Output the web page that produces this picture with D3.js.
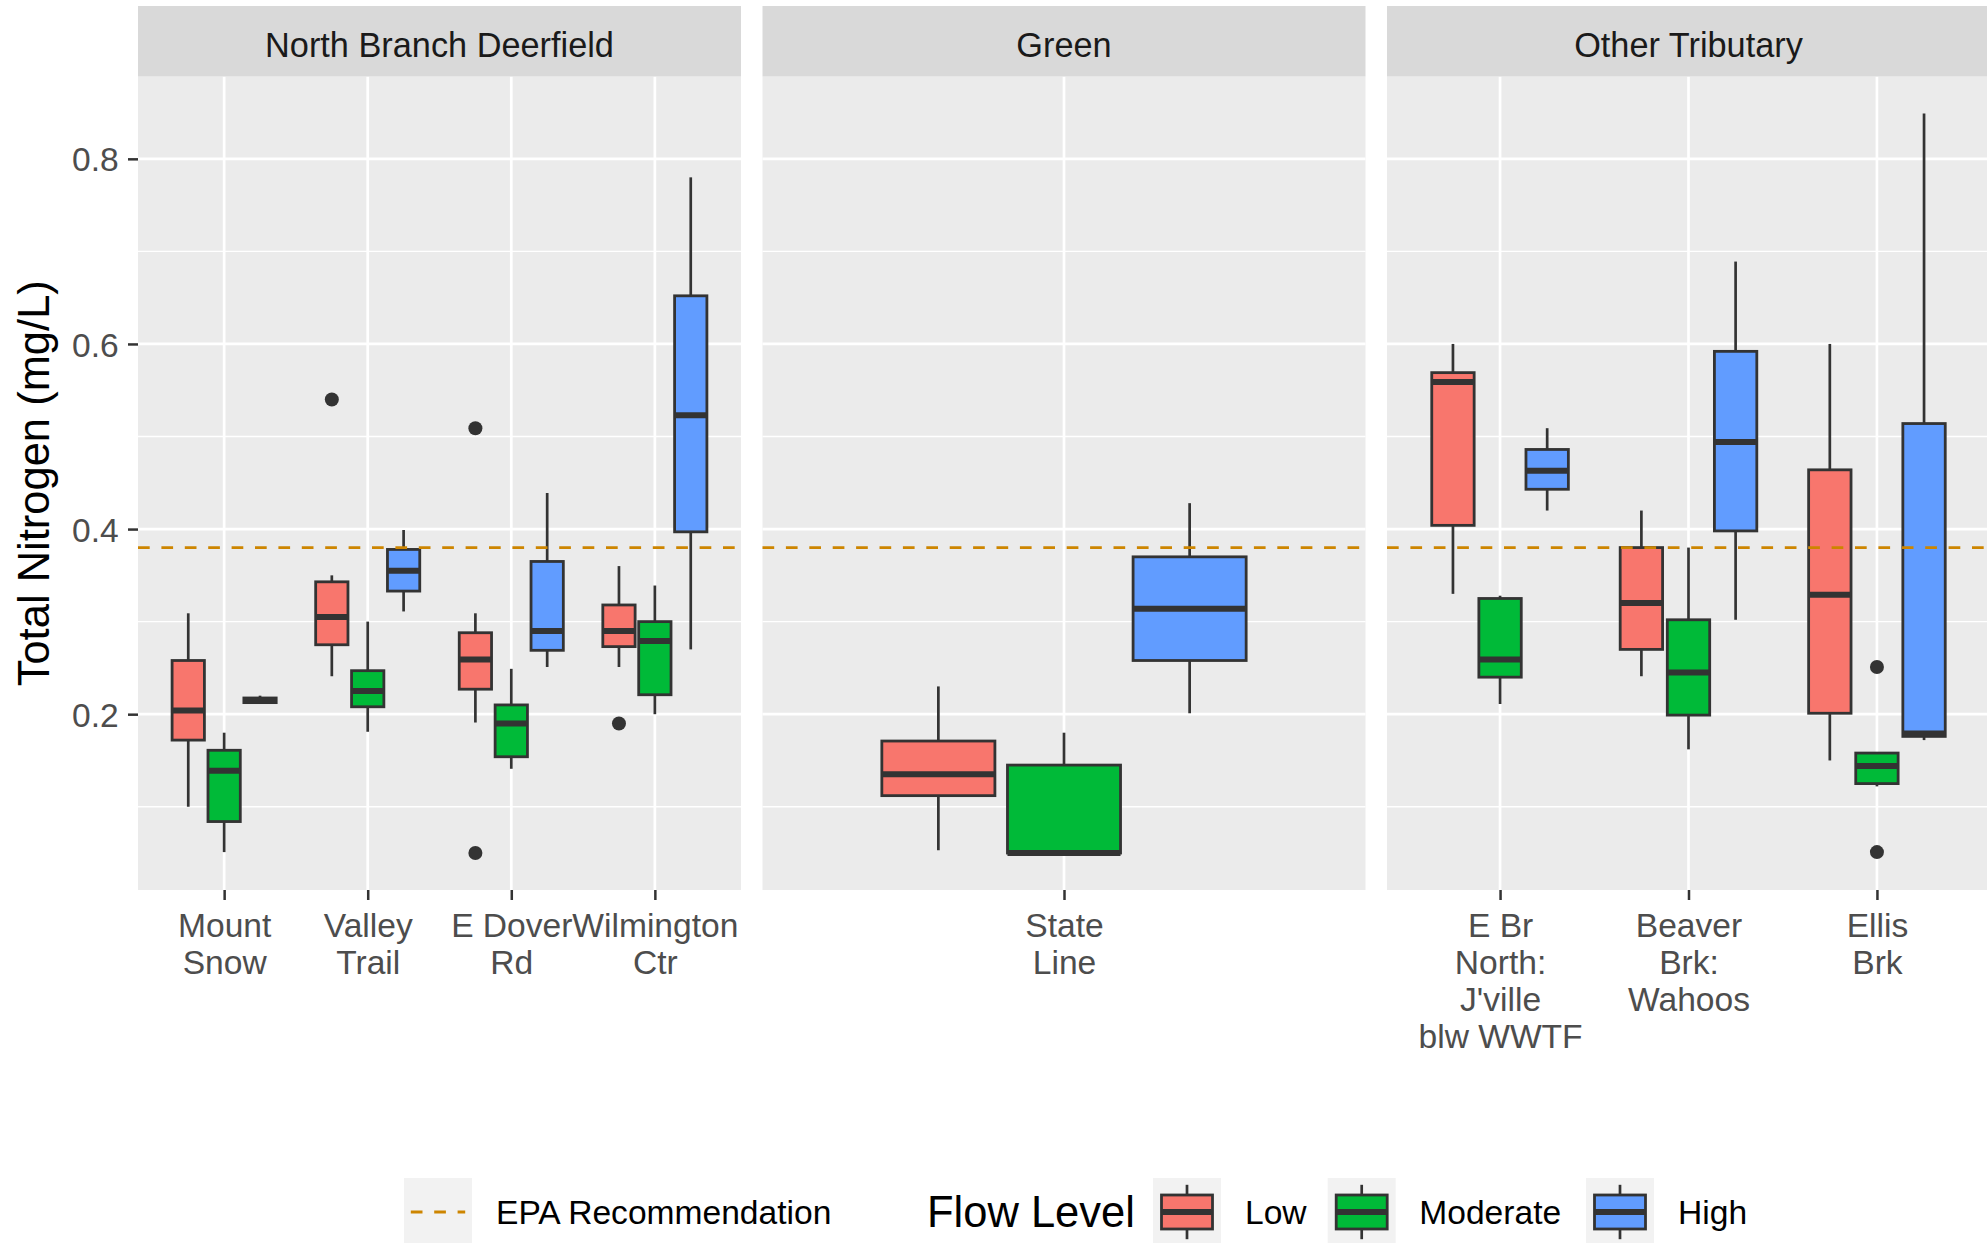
<!DOCTYPE html>
<html>
<head>
<meta charset="utf-8">
<script src="https://cdn.jsdelivr.net/npm/d3@7"></script>
<style>
  html, body { margin: 0; padding: 0; background: #ffffff; }
  svg { display: block; font-family: "Liberation Sans", Arial, Helvetica, sans-serif; }
</style>
</head>
<body>
<svg id="chart" width="1987" height="1243"></svg>
<script>
// Rivers (facets) and the sampling sites that belong to each one
const facets = ["North Branch Deerfield", "Green", "Other Tributary"];
const sites = ["Mount Snow", "Valley Trail", "E Dover Rd", "Wilmington Ctr", "State Line",
               "E Br North: J'ville blw WWTF", "Beaver Brk: Wahoos", "Ellis Brk"];
const siteFacet = [0, 0, 0, 0, 1, 2, 2, 2];
const siteLabels = [["Mount", "Snow"], ["Valley", "Trail"], ["E Dover", "Rd"], ["Wilmington", "Ctr"],
                    ["State", "Line"], ["E Br", "North:", "J'ville", "blw WWTF"],
                    ["Beaver", "Brk:", "Wahoos"], ["Ellis", "Brk"]];
const flowLevels = ["Low", "Moderate", "High"];
const flowColors = ["#F8766D", "#00BA38", "#619CFF"];

// Total nitrogen summaries per site, mg/L: [lower whisker, Q1, median, Q3, upper whisker]
const lowStats = [
  [0.100, 0.172, 0.204, 0.258, 0.309],
  [0.241, 0.275, 0.305, 0.343, 0.350],
  [0.191, 0.227, 0.259, 0.288, 0.309],
  [0.251, 0.273, 0.290, 0.318, 0.360],
  [0.053, 0.112, 0.135, 0.171, 0.230],
  [0.330, 0.404, 0.559, 0.569, 0.600],
  [0.241, 0.270, 0.320, 0.380, 0.420],
  [0.150, 0.201, 0.329, 0.464, 0.600]
];
const moderateStats = [
  [0.051, 0.084, 0.139, 0.161, 0.180],
  [0.181, 0.208, 0.225, 0.247, 0.300],
  [0.141, 0.154, 0.190, 0.210, 0.249],
  [0.200, 0.221, 0.279, 0.300, 0.339],
  [0.050, 0.050, 0.050, 0.145, 0.180],
  [0.211, 0.240, 0.259, 0.325, 0.328],
  [0.162, 0.199, 0.245, 0.302, 0.380],
  [0.122, 0.125, 0.144, 0.158, 0.159]
];
const highStats = [
  [0.2125, 0.2125, 0.215, 0.2175, 0.220],
  [0.311, 0.333, 0.355, 0.378, 0.399],
  [0.251, 0.269, 0.290, 0.365, 0.439],
  [0.270, 0.397, 0.523, 0.652, 0.780],
  [0.201, 0.258, 0.314, 0.370, 0.428],
  [0.420, 0.443, 0.463, 0.486, 0.509],
  [0.302, 0.398, 0.494, 0.592, 0.689],
  [0.172, 0.176, 0.179, 0.514, 0.849]
];
// Outlying samples: [site index, flow level index, value]
const outliers = [
  [1, 0, 0.540],
  [2, 0, 0.509],
  [2, 0, 0.050],
  [3, 0, 0.190],
  [7, 1, 0.251],
  [7, 1, 0.051]
];
const epaRecommendation = 0.38;
const yTicks = [0.2, 0.4, 0.6, 0.8];
const yTickLabels = ["0.2", "0.4", "0.6", "0.8"];

// ---- layout ----
const svg = d3.select("#chart");
const statsByLevel = [lowStats, moderateStats, highStats];
const dark = "#333333";
const panelTop = 76.5, panelBottom = 890, stripTop = 6;
const panelLeft0 = 138, panelW = 603, panelGap = 21.5;
const textSize = 33.6, stripSize = 34.3, titleSize = 43.5;
const boxStroke = 2.8, whiskerStroke = 2.7, medianStroke = 6;

// shared y scale with 5% expansion around the data
const allValues = statsByLevel.flat(2).concat(outliers.map(d => d[2]));
const [vMin, vMax] = d3.extent(allValues);
const pad = (vMax - vMin) * 0.05;
const y = d3.scaleLinear().domain([vMin - pad, vMax + pad]).range([panelBottom, panelTop]);

// minor gridlines half way between the major ticks
const step = yTicks[1] - yTicks[0];
const minorTicks = [yTicks[0] - step / 2].concat(yTicks.map(t => t + step / 2))
  .filter(v => v > y.domain()[0] && v < y.domain()[1]);

facets.forEach((facet, f) => {
  const px = panelLeft0 + f * (panelW + panelGap);
  const fSites = sites.map((s, i) => i).filter(i => siteFacet[i] === f);
  const x = d3.scalePoint().domain(fSites).range([px, px + panelW]).padding(0.6);
  const unit = x.step();

  const g = svg.append("g");
  g.append("rect").attr("x", px).attr("y", panelTop)
    .attr("width", panelW).attr("height", panelBottom - panelTop).attr("fill", "#EBEBEB");

  g.selectAll("line.minor").data(minorTicks).join("line")
    .attr("x1", px).attr("x2", px + panelW)
    .attr("y1", d => y(d)).attr("y2", d => y(d))
    .attr("stroke", "#ffffff").attr("stroke-width", 1.35);
  g.selectAll("line.major").data(yTicks).join("line")
    .attr("x1", px).attr("x2", px + panelW)
    .attr("y1", d => y(d)).attr("y2", d => y(d))
    .attr("stroke", "#ffffff").attr("stroke-width", 2.7);
  g.selectAll("line.vmajor").data(fSites).join("line")
    .attr("x1", d => x(d)).attr("x2", d => x(d))
    .attr("y1", panelTop).attr("y2", panelBottom)
    .attr("stroke", "#ffffff").attr("stroke-width", 2.7);

  // boxes, dodged by flow level
  const boxes = [];
  fSites.forEach(s => {
    flowLevels.forEach((lvl, l) => {
      boxes.push({ s, l, st: statsByLevel[l][s], cx: x(s) + (l - 1) * 0.25 * unit, bw: 0.225 * unit });
    });
  });
  const bg = g.selectAll("g.box").data(boxes).join("g");
  bg.append("line")
    .attr("x1", d => d.cx).attr("x2", d => d.cx)
    .attr("y1", d => y(d.st[4])).attr("y2", d => y(d.st[3]))
    .attr("stroke", dark).attr("stroke-width", whiskerStroke);
  bg.append("line")
    .attr("x1", d => d.cx).attr("x2", d => d.cx)
    .attr("y1", d => y(d.st[1])).attr("y2", d => y(d.st[0]))
    .attr("stroke", dark).attr("stroke-width", whiskerStroke);
  bg.append("rect")
    .attr("x", d => d.cx - d.bw / 2).attr("width", d => d.bw)
    .attr("y", d => y(d.st[3])).attr("height", d => Math.max(0.5, y(d.st[1]) - y(d.st[3])))
    .attr("fill", d => flowColors[d.l]).attr("stroke", dark).attr("stroke-width", boxStroke)
    .attr("stroke-linejoin", "miter");
  bg.append("line")
    .attr("x1", d => d.cx - d.bw / 2).attr("x2", d => d.cx + d.bw / 2)
    .attr("y1", d => y(d.st[2])).attr("y2", d => y(d.st[2]))
    .attr("stroke", dark).attr("stroke-width", medianStroke);

  g.selectAll("circle.out").data(outliers.filter(o => siteFacet[o[0]] === f)).join("circle")
    .attr("cx", d => x(d[0]) + (d[1] - 1) * 0.25 * unit)
    .attr("cy", d => y(d[2])).attr("r", 7).attr("fill", dark);

  // EPA recommended level
  g.append("line")
    .attr("x1", px).attr("x2", px + panelW)
    .attr("y1", y(epaRecommendation)).attr("y2", y(epaRecommendation))
    .attr("stroke", "#CD8500").attr("stroke-width", 2.8).attr("stroke-dasharray", "11.7,11.7");

  // facet strip
  g.append("rect").attr("x", px).attr("y", stripTop)
    .attr("width", panelW).attr("height", panelTop - stripTop).attr("fill", "#D9D9D9");
  g.append("text").attr("x", px + panelW / 2).attr("y", 56.5)
    .attr("text-anchor", "middle").attr("font-size", stripSize).attr("fill", "#1A1A1A")
    .text(facet);

  // bottom axis with wrapped site names
  const ax = svg.append("g").attr("transform", `translate(0,${panelBottom})`)
    .call(d3.axisBottom(x).tickSize(10).tickFormat(""));
  ax.select(".domain").remove();
  ax.selectAll(".tick line").attr("stroke", dark).attr("stroke-width", 2.5);
  ax.selectAll(".tick text").remove();
  ax.selectAll(".tick").append("text")
    .attr("text-anchor", "middle").attr("font-size", textSize).attr("fill", "#4D4D4D")
    .attr("y", 47.3)
    .each(function (d) {
      const t = d3.select(this);
      siteLabels[d].forEach((line, i) => {
        t.append("tspan").attr("x", 0).attr("dy", i === 0 ? 0 : 37).text(line);
      });
    });
});

// left axis
const ay = svg.append("g").attr("transform", `translate(${panelLeft0},0)`)
  .call(d3.axisLeft(y).tickValues(yTicks).tickSize(10).tickPadding(9.3)
    .tickFormat((d, i) => yTickLabels[i]));
ay.select(".domain").remove();
ay.selectAll(".tick line").attr("stroke", dark).attr("stroke-width", 2.5);
ay.selectAll(".tick text").attr("font-size", textSize).attr("fill", "#4D4D4D")
  .attr("font-family", null).attr("dy", "0.36em");

svg.append("text")
  .attr("transform", `translate(49,${(panelTop + panelBottom) / 2}) rotate(-90)`)
  .attr("text-anchor", "middle").attr("font-size", titleSize).attr("fill", "#000000")
  .text("Total Nitrogen (mg/L)");

// legend
const legendMid = 1212, keySize = 68;
const lg = svg.append("g");
lg.append("rect").attr("x", 404).attr("y", legendMid - keySize / 2)
  .attr("width", keySize).attr("height", keySize).attr("fill", "#F2F2F2");
lg.append("line").attr("x1", 404 + 0.1 * keySize).attr("x2", 404 + 0.9 * keySize)
  .attr("y1", legendMid).attr("y2", legendMid)
  .attr("stroke", "#CD8500").attr("stroke-width", 2.8).attr("stroke-dasharray", "11.7,11.7");
lg.append("text").attr("x", 496).attr("y", legendMid + 12)
  .attr("font-size", textSize).attr("fill", "#000000").text("EPA Recommendation");
lg.append("text").attr("x", 927).attr("y", legendMid + 15)
  .attr("font-size", titleSize).attr("fill", "#000000").text("Flow Level");

const keyX = [1153, 1327.7, 1586];
const labelX = [1245, 1419.3, 1678];
flowLevels.forEach((lvl, l) => {
  const kx = keyX[l], ky = legendMid - keySize / 2;
  lg.append("rect").attr("x", kx).attr("y", ky).attr("width", keySize).attr("height", keySize)
    .attr("fill", "#F2F2F2");
  lg.append("line").attr("x1", kx + keySize / 2).attr("x2", kx + keySize / 2)
    .attr("y1", ky + 0.1 * keySize).attr("y2", ky + 0.9 * keySize)
    .attr("stroke", dark).attr("stroke-width", whiskerStroke);
  lg.append("rect").attr("x", kx + 0.125 * keySize).attr("y", ky + 0.25 * keySize)
    .attr("width", 0.75 * keySize).attr("height", 0.5 * keySize)
    .attr("fill", flowColors[l]).attr("stroke", dark).attr("stroke-width", boxStroke);
  lg.append("line").attr("x1", kx + 0.125 * keySize).attr("x2", kx + 0.875 * keySize)
    .attr("y1", legendMid).attr("y2", legendMid)
    .attr("stroke", dark).attr("stroke-width", medianStroke);
  lg.append("text").attr("x", labelX[l]).attr("y", legendMid + 12)
    .attr("font-size", textSize).attr("fill", "#000000").text(lvl);
});
</script>
</body>
</html>
